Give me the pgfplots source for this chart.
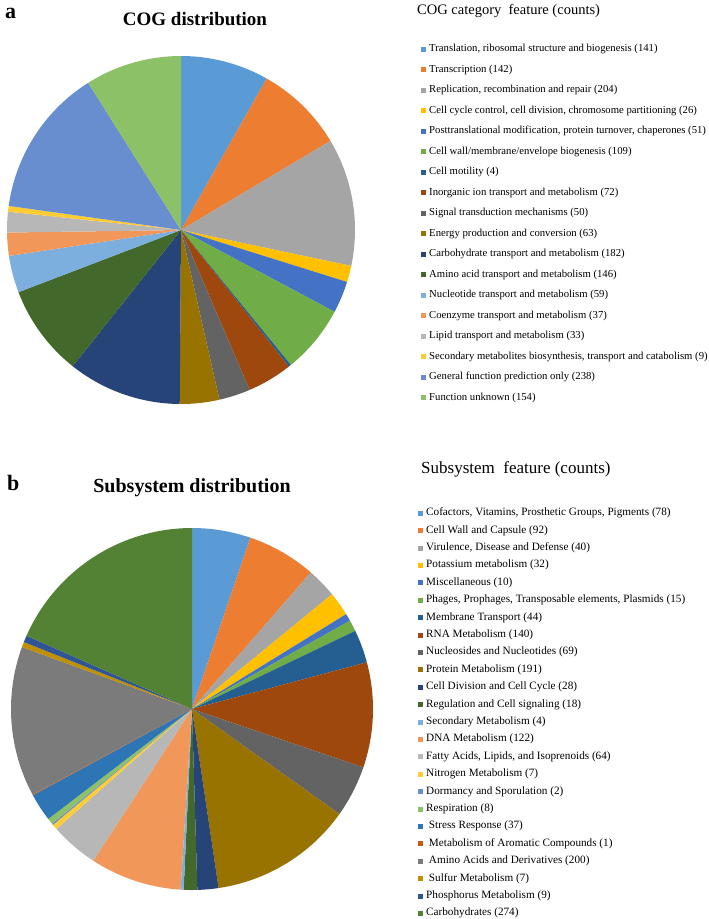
\documentclass[border=0pt]{standalone}
\usepackage{fontspec}
\setmainfont{Liberation Serif}
\usepackage{pgfplots}
\usepackage{pgfplotstable}
\pgfplotsset{compat=1.18}

\definecolor{c1}{HTML}{5B9BD5}
\definecolor{c2}{HTML}{ED7D31}
\definecolor{c3}{HTML}{A5A5A5}
\definecolor{c4}{HTML}{FFC000}
\definecolor{c5}{HTML}{4472C4}
\definecolor{c6}{HTML}{70AD47}
\definecolor{c7}{HTML}{255E91}
\definecolor{c8}{HTML}{9E480E}
\definecolor{c9}{HTML}{636363}
\definecolor{c10}{HTML}{997300}
\definecolor{c11}{HTML}{264478}
\definecolor{c12}{HTML}{43682B}
\definecolor{c13}{HTML}{7CAFDD}
\definecolor{c14}{HTML}{F1975A}
\definecolor{c15}{HTML}{B7B7B7}
\definecolor{c16}{HTML}{FFCD33}
\definecolor{c17}{HTML}{698ED0}
\definecolor{c18}{HTML}{8CC168}
\definecolor{c19}{HTML}{2E75B6}
\definecolor{c20}{HTML}{C55A11}
\definecolor{c21}{HTML}{7B7B7B}
\definecolor{c22}{HTML}{BF9000}
\definecolor{c23}{HTML}{2F5597}
\definecolor{c24}{HTML}{548235}

\pgfplotstableread[col sep=semicolon]{
label;count
Translation, ribosomal structure and biogenesis;141
Transcription;142
Replication, recombination and repair;204
Cell cycle control, cell division, chromosome partitioning;26
Posttranslational modification, protein turnover, chaperones;51
Cell wall/membrane/envelope biogenesis;109
Cell motility;4
Inorganic ion transport and metabolism;72
Signal transduction mechanisms;50
Energy production and conversion;63
Carbohydrate transport and metabolism;182
Amino acid transport and metabolism;146
Nucleotide transport and metabolism;59
Coenzyme transport and metabolism;37
Lipid transport and metabolism;33
Secondary metabolites biosynthesis, transport and catabolism;9
General function prediction only;238
Function unknown;154
}\cogtable

\pgfplotstableread[col sep=semicolon]{
label;count
Cofactors, Vitamins, Prosthetic Groups, Pigments;78
Cell Wall and Capsule;92
Virulence, Disease and Defense;40
Potassium metabolism;32
Miscellaneous;10
Phages, Prophages, Transposable elements, Plasmids;15
Membrane Transport;44
RNA Metabolism;140
Nucleosides and Nucleotides;69
Protein Metabolism;191
Cell Division and Cell Cycle;28
Regulation and Cell signaling;18
Secondary Metabolism;4
DNA Metabolism;122
Fatty Acids, Lipids, and Isoprenoids;64
Nitrogen Metabolism;7
Dormancy and Sporulation;2
Respiration;8
~Stress Response;37
~Metabolism of Aromatic Compounds;1
~Amino Acids and Derivatives;200
~Sulfur Metabolism;7
Phosphorus Metabolism;9
Carbohydrates;274
}\subtable

% total of a table
\newcommand\tabletotal[3]{% #1 table, #2 macro for last index, #3 macro for total
  \pgfplotstablegetrowsof{#1}%
  \pgfmathtruncatemacro#2{\pgfplotsretval-1}%
  \def#3{0}%
  \pgfplotsforeachungrouped \i in {0,...,#2}{%
    \pgfplotstablegetelem{\i}{count}\of#1%
    \pgfmathsetmacro#3{#3+\pgfplotsretval}%
  }%
}
\tabletotal{\cogtable}{\cogN}{\cogT}
\tabletotal{\subtable}{\subN}{\subT}

% pie slices, clockwise from 12 o'clock
\newcommand\pieslices[3]{% #1 table, #2 last index, #3 total
  \def\cum{0}%
  \pgfplotsforeachungrouped \i in {0,...,#2}{%
    \pgfplotstablegetelem{\i}{count}\of#1\let\val\pgfplotsretval
    \pgfplotstablegetelem{\i}{label}\of#1\let\lab\pgfplotsretval
    \pgfmathsetmacro\angA{90-((\cum+\val)/#3)*360}%
    \pgfmathsetmacro\angB{90-(\cum/#3)*360}%
    \pgfmathsetmacro\cum{\cum+\val}%
    \pgfmathtruncatemacro\ci{\i+1}%
    \edef\cmd{\noexpand\addplot[fill=c\ci, draw=none, domain=\angA:\angB, samples=60, variable=\noexpand\t] ({cos(\noexpand\t)},{sin(\noexpand\t)}) -- (axis cs:0,0) -- cycle;
    \noexpand\addlegendentry{\unexpanded\expandafter{\lab} (\val)}}%
    \cmd
  }%
}

\begin{document}
\begin{tikzpicture}[x=1pt,y=1pt]
\path[use as bounding box] (0,0) rectangle (709,-919);

% panel a
\node[anchor=base west, inner sep=0pt, font=\bfseries\fontsize{22}{22}\selectfont] at (5,-18) {a};
\node[anchor=base, inner sep=0pt, font=\bfseries\fontsize{19}{19}\selectfont] at (195,-25) {COG distribution};
\node[anchor=base west, inner sep=0pt, font=\fontsize{14.5}{15}\selectfont] at (417,-14) {COG category\ \ feature (counts)};

\begin{axis}[at={(181pt,-230pt)}, anchor=center, scale only axis,
  width=348pt, height=348pt, xmin=-1, xmax=1, ymin=-1, ymax=1,
  hide axis, clip=false,
  legend cell align=left,
  legend image code/.code={\fill[#1] (0pt,-2.5pt) rectangle (5pt,2.5pt);},
  legend style={draw=none, fill=none, inner sep=0pt, at={(1.1897,1.0345)}, anchor=north west,
    font=\fontsize{10.7}{12}\selectfont, row sep=10.5pt, column sep=3pt,
    nodes={inner sep=0pt, text height=7.5pt, text depth=2.5pt}}]
\pieslices{\cogtable}{\cogN}{\cogT}
\end{axis}

% panel b
\node[anchor=base west, inner sep=0pt, font=\bfseries\fontsize{22}{22}\selectfont] at (7,-490) {b};
\node[anchor=base, inner sep=0pt, font=\bfseries\fontsize{20}{20}\selectfont] at (192,-492) {Subsystem distribution};
\node[anchor=base west, inner sep=0pt, font=\fontsize{17}{18}\selectfont] at (421,-473) {Subsystem\ \ feature (counts)};

\begin{axis}[at={(192pt,-709pt)}, anchor=center, scale only axis,
  width=362pt, height=362pt, xmin=-1, xmax=1, ymin=-1, ymax=1,
  hide axis, clip=false,
  legend cell align=left,
  legend image code/.code={\fill[#1] (0pt,-2.5pt) rectangle (5pt,2.5pt);},
  legend style={draw=none, fill=none, inner sep=0pt, at={(1.1243,1.0552)}, anchor=north west,
    font=\fontsize{11.2}{12}\selectfont, row sep=7.4pt, column sep=3pt,
    nodes={inner sep=0pt, text height=7.5pt, text depth=2.5pt}}]
\pieslices{\subtable}{\subN}{\subT}
\end{axis}
\end{tikzpicture}
\end{document}
